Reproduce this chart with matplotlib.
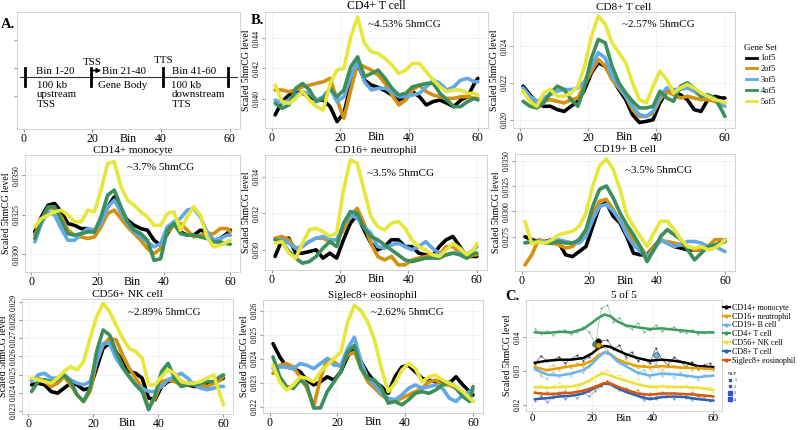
import numpy as np
import matplotlib.pyplot as plt
from matplotlib.lines import Line2D

plt.rcParams['font.family'] = ['Liberation Serif', 'DejaVu Serif']

multiplier = 1e-3  # values below are scaled 5hmCG level x 1000

# bins sampled along the 60-bin gene profile
bins = list(range(1, 60, 2)) + [60]

gene_sets = ['1of5', '2of5', '3of5', '4of5', '5of5']
set_colors = ['#000000', '#D4900F', '#62A8E5', '#3A8F5A', '#E6E63C']

cd4 = {
    '1of5': [38.96, 39.83, 40.26, 40.48, 40.37, 40.15, 39.93, 39.93, 39.50, 38.52,
             39.07, 40.91, 42.33, 41.24, 40.91, 40.76, 40.54, 40.26, 39.93, 40.15,
             40.48, 40.15, 39.61, 39.83, 39.93, 39.72, 39.50, 39.93, 40.15, 41.02, 41.35],
    '2of5': [40.59, 40.59, 40.48, 40.59, 40.80, 40.91, 41.02, 41.13, 41.35, 39.93,
             38.74, 40.59, 42.33, 42.11, 41.89, 41.57, 41.02, 40.26, 39.61, 39.93,
             40.59, 40.91, 40.48, 40.26, 40.15, 40.04, 40.04, 40.15, 40.15, 40.04, 40.04],
    '3of5': [39.93, 39.72, 39.93, 40.26, 40.48, 40.37, 39.93, 40.15, 40.70, 39.83,
             40.15, 41.46, 42.54, 41.13, 40.59, 40.70, 40.70, 40.48, 40.15, 40.15,
             40.26, 40.37, 40.80, 41.24, 41.02, 40.59, 40.80, 41.24, 41.35, 41.13, 41.13],
    '4of5': [39.72, 39.39, 39.61, 40.70, 41.02, 40.59, 39.83, 40.04, 40.70, 40.15,
             40.59, 42.11, 42.76, 41.46, 41.67, 41.89, 41.35, 40.70, 40.26, 40.37,
             40.80, 40.91, 41.02, 41.02, 40.37, 39.93, 39.50, 39.50, 39.83, 40.04, 39.93],
    '5of5': [40.91, 39.83, 39.72, 40.04, 40.48, 39.93, 39.50, 39.28, 41.02, 41.89,
             42.00, 44.07, 45.37, 43.63, 43.09, 42.98, 42.65, 42.22, 41.67, 41.89,
             42.33, 42.33, 41.78, 41.24, 40.80, 40.48, 40.59, 40.59, 40.37, 40.37, 40.26],
}

cd8 = {
    '1of5': [21.82, 21.36, 20.91, 20.73, 20.73, 20.55, 20.45, 20.73, 21.00, 21.64,
             22.55, 23.09, 22.91, 22.27, 21.64, 21.09, 20.27, 19.85, 19.91, 20.00,
             20.91, 21.55, 21.45, 21.36, 21.09, 20.55, 20.45, 21.09, 21.27, 21.18, 21.18],
    '2of5': [21.55, 21.18, 21.00, 21.00, 21.09, 21.00, 20.91, 21.09, 21.18, 21.91,
             22.64, 23.27, 22.91, 22.18, 21.73, 21.27, 20.55, 20.18, 20.18, 20.36,
             21.09, 21.55, 21.36, 21.18, 21.27, 21.18, 21.09, 21.09, 21.00, 20.91, 20.91],
    '3of5': [21.73, 21.27, 21.00, 21.18, 21.36, 21.55, 21.64, 21.64, 21.73, 22.09,
             22.91, 23.64, 23.36, 22.36, 21.82, 21.27, 20.73, 20.27, 20.18, 20.45,
             21.27, 21.73, 21.64, 21.64, 21.73, 21.55, 21.27, 21.27, 21.09, 20.82, 20.73],
    '4of5': [21.00, 20.73, 20.64, 20.91, 21.45, 21.82, 21.64, 21.09, 20.73, 21.82,
             23.36, 24.36, 24.18, 22.91, 22.00, 21.45, 21.00, 20.64, 20.64, 20.73,
             21.55, 21.18, 21.00, 21.82, 22.00, 21.73, 21.27, 21.36, 21.18, 20.55, 20.18],
    '5of5': [21.55, 21.00, 20.73, 21.45, 21.64, 21.27, 21.27, 21.45, 21.82, 22.91,
             24.55, 25.64, 25.18, 24.18, 23.64, 23.09, 22.00, 21.09, 20.91, 21.82,
             22.64, 22.18, 21.45, 21.73, 21.91, 21.73, 21.45, 21.27, 21.09, 21.00, 20.91],
}

cd14 = {
    '1of5': [31.42, 32.37, 33.11, 33.22, 32.69, 31.95, 31.84, 31.63, 31.63, 31.42,
             31.95, 33.01, 33.64, 32.69, 32.16, 31.84, 31.63, 31.53, 30.89, 30.57,
             31.31, 31.95, 31.42, 31.21, 31.21, 31.53, 31.42, 30.89, 31.00, 31.31, 31.53],
    '2of5': [31.21, 32.16, 32.90, 32.90, 32.37, 31.53, 31.21, 31.10, 31.00, 31.10,
             31.74, 32.58, 32.80, 32.27, 31.74, 31.31, 30.89, 30.36, 30.04, 30.36,
             31.42, 31.84, 31.95, 31.53, 31.10, 31.21, 31.31, 31.31, 31.63, 31.63, 31.42],
    '3of5': [30.78, 31.95, 32.69, 32.48, 31.63, 30.89, 30.89, 31.31, 31.63, 31.53,
             31.95, 33.01, 33.43, 32.69, 31.95, 31.42, 31.10, 30.78, 30.47, 30.68,
             31.74, 32.06, 32.27, 32.80, 32.90, 32.37, 31.42, 30.89, 31.00, 31.21, 31.21],
    '4of5': [31.00, 32.16, 33.01, 33.01, 32.16, 31.31, 31.21, 31.31, 31.42, 31.42,
             32.37, 33.75, 34.07, 33.01, 32.06, 31.53, 31.31, 30.89, 29.62, 29.72,
             31.53, 31.95, 31.31, 31.21, 31.21, 31.10, 31.00, 30.78, 30.78, 30.68, 30.64],
    '5of5': [31.74, 32.27, 32.48, 32.69, 32.80, 32.48, 32.06, 32.06, 32.80, 32.69,
             34.07, 35.76, 35.87, 34.28, 33.43, 33.11, 32.69, 32.37, 31.84, 31.84,
             32.58, 32.69, 31.53, 32.37, 33.01, 32.48, 31.10, 30.47, 30.57, 30.78, 30.89],
}

cd16 = {
    '1of5': [29.64, 30.55, 30.64, 29.82, 29.82, 29.91, 30.00, 29.55, 29.82, 29.55,
             30.55, 31.45, 31.91, 31.09, 30.36, 30.00, 30.18, 30.55, 30.55, 30.18,
             30.18, 29.82, 29.73, 29.64, 30.18, 30.55, 30.73, 30.18, 29.64, 29.64, 29.64],
    '2of5': [30.64, 30.73, 30.55, 30.09, 30.18, 30.45, 30.64, 30.64, 30.45, 30.55,
             31.09, 31.82, 32.27, 31.45, 30.36, 29.64, 29.45, 29.64, 29.18, 29.18,
             29.45, 29.55, 29.64, 29.73, 29.73, 30.18, 30.18, 29.82, 29.55, 29.73, 29.73],
    '3of5': [30.55, 30.55, 30.36, 30.09, 30.18, 30.45, 30.64, 30.73, 30.55, 30.55,
             31.36, 31.91, 31.73, 31.27, 30.91, 30.18, 30.09, 30.27, 30.36, 30.18,
             30.00, 30.18, 30.45, 30.09, 29.82, 29.73, 29.82, 29.82, 29.73, 30.00, 30.18],
    '4of5': [30.55, 30.45, 29.91, 29.55, 29.27, 29.36, 29.64, 30.09, 30.45, 30.18,
             31.45, 32.09, 32.00, 31.18, 30.73, 30.55, 30.27, 30.00, 29.73, 29.45,
             29.36, 29.45, 29.55, 29.55, 29.55, 29.73, 29.82, 29.73, 29.55, 29.82, 29.82],
    '5of5': [30.36, 30.45, 29.82, 29.55, 30.36, 31.09, 31.18, 31.00, 30.73, 30.91,
             33.27, 34.91, 34.73, 33.27, 31.82, 31.27, 31.09, 31.45, 31.55, 31.18,
             30.55, 30.18, 30.00, 29.73, 29.64, 30.00, 30.36, 30.09, 29.73, 30.00, 30.36],
}

cd19 = {
    '1of5': [27.50, 27.20, 27.03, 27.03, 27.20, 26.87, 25.70, 25.53, 26.03, 26.53,
             28.53, 30.53, 30.87, 29.53, 28.87, 27.53, 25.87, 25.70, 25.70, 26.53,
             27.20, 26.87, 26.53, 26.37, 26.20, 26.20, 26.20, 26.37, 26.53, 27.03, 27.20],
    '2of5': [24.70, 25.70, 27.20, 27.03, 26.87, 26.70, 26.37, 26.53, 27.20, 28.20,
             29.70, 31.03, 31.20, 30.20, 29.03, 28.20, 27.20, 26.53, 25.53, 26.53,
             27.03, 27.03, 26.87, 26.70, 26.53, 26.20, 26.20, 26.53, 27.20, 27.20, 27.03],
    '3of5': [26.90, 27.00, 27.03, 27.03, 27.03, 27.20, 27.03, 26.87, 26.87, 27.53,
             29.20, 30.53, 30.70, 30.03, 29.20, 27.70, 26.70, 26.03, 25.53, 26.20,
             27.20, 26.87, 26.53, 26.70, 27.03, 27.03, 26.87, 26.53, 26.53, 26.20, 26.03],
    '4of5': [26.90, 27.00, 27.03, 26.87, 26.87, 27.03, 26.87, 26.87, 27.20, 28.20,
             30.53, 32.20, 32.53, 31.37, 29.87, 28.70, 27.70, 26.53, 25.03, 26.20,
             27.53, 28.20, 27.70, 27.20, 26.20, 25.20, 25.87, 26.53, 26.70, 26.87, 27.03],
    '5of5': [29.00, 26.80, 27.00, 26.87, 27.20, 27.70, 27.87, 28.03, 28.53, 29.87,
             32.53, 34.53, 35.20, 34.20, 32.20, 29.70, 28.53, 27.53, 26.53, 27.87,
             29.03, 29.03, 28.20, 27.20, 26.53, 26.37, 26.53, 26.20, 26.37, 26.87, 27.20],
}

cd56 = {
    '1of5': [24.43, 24.52, 24.43, 24.06, 23.97, 24.25, 24.52, 24.43, 24.16, 24.25,
             25.35, 26.45, 26.72, 26.27, 25.72, 25.17, 25.07, 24.80, 23.70, 23.61,
             24.34, 24.61, 24.71, 24.61, 24.43, 24.34, 24.34, 24.43, 24.52, 24.71, 24.80],
    '2of5': [24.71, 24.80, 24.61, 24.34, 24.52, 24.89, 24.43, 23.88, 23.51, 24.06,
             25.72, 26.63, 27.00, 26.91, 26.08, 25.35, 24.80, 24.25, 23.15, 23.70,
             24.61, 24.71, 24.61, 24.43, 24.52, 24.52, 24.43, 24.34, 24.52, 24.71, 24.89],
    '3of5': [24.61, 24.98, 25.07, 24.80, 24.80, 24.98, 24.71, 24.52, 24.43, 24.61,
             25.72, 26.72, 26.72, 25.90, 25.35, 24.89, 24.43, 24.25, 24.06, 24.06,
             24.34, 24.71, 24.89, 25.07, 24.80, 24.43, 24.25, 24.16, 24.25, 24.34, 24.34],
    '4of5': [24.06, 24.61, 24.71, 24.61, 24.71, 24.98, 24.61, 23.88, 23.51, 24.25,
             26.27, 27.46, 27.18, 26.27, 25.44, 24.89, 24.43, 24.06, 23.06, 23.88,
             25.17, 25.62, 24.80, 24.34, 24.43, 24.43, 24.52, 24.61, 24.61, 24.89, 24.98],
    '5of5': [24.80, 24.71, 24.61, 24.52, 24.80, 25.17, 25.44, 25.26, 25.72, 27.00,
             28.19, 28.93, 28.47, 27.73, 27.00, 26.45, 26.27, 25.90, 24.43, 24.43,
             24.89, 25.26, 25.07, 24.61, 24.52, 24.52, 24.61, 24.80, 24.98, 23.88, 23.33],
}

siglec8 = {
    '1of5': [24.63, 24.08, 23.66, 23.59, 23.46, 23.11, 22.91, 23.04, 23.25, 23.11,
             23.46, 24.08, 24.49, 23.87, 23.39, 23.04, 22.84, 22.56, 23.25, 23.66,
             23.73, 23.46, 23.18, 23.11, 23.04, 23.04, 22.98, 23.25, 22.91, 22.63, 22.49],
    '2of5': [23.39, 23.73, 23.80, 23.66, 23.25, 22.77, 22.01, 23.18, 24.01, 23.87,
             23.66, 24.14, 24.28, 23.59, 23.04, 22.77, 22.49, 22.29, 22.22, 22.36,
             22.49, 22.63, 22.77, 23.04, 23.11, 22.91, 22.91, 22.77, 22.49, 22.29, 22.22],
    '3of5': [23.59, 23.66, 23.66, 23.59, 23.80, 23.73, 23.59, 23.80, 24.01, 23.73,
             23.73, 24.42, 24.90, 23.87, 23.18, 22.91, 22.56, 22.36, 22.29, 22.49,
             22.77, 22.91, 22.77, 22.84, 22.91, 22.77, 22.36, 22.22, 22.49, 22.63, 22.70],
    '4of5': [24.08, 23.25, 22.84, 22.77, 23.11, 22.91, 21.95, 21.95, 22.63, 23.04,
             23.46, 24.28, 24.56, 23.59, 23.18, 23.11, 22.77, 22.15, 22.22, 22.08,
             22.29, 22.56, 22.63, 22.56, 22.70, 22.91, 23.04, 22.77, 22.43, 22.22, 22.84],
    '5of5': [23.73, 23.04, 22.70, 22.91, 23.25, 23.18, 23.04, 23.46, 23.73, 24.01,
             24.28, 25.52, 26.23, 26.00, 25.52, 24.76, 23.59, 22.63, 22.98, 23.53,
             23.80, 23.59, 23.04, 23.25, 23.32, 23.11, 22.98, 22.84, 22.63, 22.36, 22.22],
}

# panel C: "5 of 5" gene set across cell types (raw bins + smoothed fit)
c_cells = ['CD14+ monocyte', 'CD16+ neutrophil', 'CD19+ B cell', 'CD4+ T cell',
           'CD56+ NK cell', 'CD8+ T cell', 'Siglec8+ eosinophil']
c_colors = ['#000000', '#E69F00', '#6CB4EA', '#3E9A5E', '#E8E23A', '#2A62B0', '#D35A12']

raw_cd14 = [32.0, 34.5, 32.8, 33.2, 34.2, 32.2, 33.6, 34.6, 33.0, 34.2,
            36.2, 38.8, 39.2, 36.4, 37.6, 34.2, 35.6, 33.0, 33.6, 32.2,
            36.8, 33.4, 31.8, 34.0, 33.0, 31.2, 32.6, 30.6, 31.8, 32.2, 30.8]
raw_cd16 = [31.6, 29.2, 30.4, 31.8, 30.2, 31.6, 30.8, 32.4, 31.2, 32.8,
            34.0, 37.6, 35.8, 34.4, 32.6, 33.4, 31.6, 30.8, 31.8, 30.6,
            31.6, 30.4, 31.2, 31.6, 30.8, 31.4, 30.4, 31.2, 30.6, 30.8, 30.4]
raw_cd19 = [30.8, 28.4, 27.6, 29.6, 28.2, 29.0, 28.6, 30.0, 29.4, 31.0,
            33.2, 35.0, 36.2, 34.4, 32.4, 32.0, 30.2, 29.0, 30.4, 27.8,
            32.2, 28.4, 29.2, 28.0, 29.6, 28.2, 28.6, 27.4, 28.8, 28.4, 28.8]
raw_cd4 = [42.5, 41.0, 41.8, 40.6, 41.4, 42.2, 40.8, 41.6, 43.0, 41.5,
           38.0, 48.5, 49.5, 44.5, 45.8, 43.2, 42.4, 44.2, 41.6, 42.0,
           43.6, 41.8, 42.4, 43.0, 41.6, 41.2, 42.2, 40.9, 41.3, 41.6, 41.4]
raw_cd56 = [24.6, 25.8, 24.8, 25.4, 26.4, 24.6, 25.6, 24.8, 26.6, 26.8,
            27.0, 29.6, 30.2, 28.4, 28.8, 27.4, 26.6, 27.6, 25.4, 25.8,
            24.6, 25.8, 24.8, 25.6, 25.0, 25.8, 24.6, 25.4, 24.8, 25.2, 23.8]
raw_cd8 = [21.2, 22.4, 20.8, 22.0, 23.0, 21.6, 22.8, 22.0, 23.6, 22.4,
           24.0, 25.4, 27.0, 25.8, 24.4, 24.8, 23.4, 22.6, 21.4, 22.2,
           21.6, 23.2, 22.6, 21.8, 22.4, 22.0, 21.4, 22.6, 21.6, 21.0, 21.4]
raw_sig = [23.8, 22.6, 23.8, 22.8, 23.6, 24.0, 22.8, 23.8, 24.4, 23.6,
           25.0, 25.6, 27.0, 26.2, 25.2, 24.6, 23.6, 24.2, 22.6, 23.4,
           22.8, 23.8, 22.6, 23.4, 23.2, 22.8, 23.6, 22.6, 22.2, 22.8, 22.4]

smooth_bins = [1, 5, 9, 13, 17, 20, 22, 24, 26, 28, 31, 35, 39, 43, 47, 51, 55, 60]
fit_cd14 = [32.4, 33.0, 33.3, 33.3, 33.8, 35.2, 36.7, 37.4, 37.1, 36.2, 35.0, 33.8, 33.0, 33.3, 33.0, 32.4, 31.4, 31.1]
fit_cd16 = [31.1, 30.2, 30.8, 31.4, 31.9, 33.0, 34.6, 35.5, 35.0, 33.6, 32.4, 31.4, 31.1, 31.4, 31.1, 30.9, 30.8, 30.5]
fit_cd19 = [30.5, 28.9, 28.6, 29.2, 30.2, 32.1, 34.0, 35.5, 34.8, 33.0, 31.4, 29.5, 28.6, 29.2, 29.0, 28.6, 28.1, 28.6]
fit_cd4 = [41.4, 41.2, 41.6, 41.4, 42.4, 44.3, 45.7, 46.7, 46.2, 44.8, 43.5, 42.9, 42.4, 42.6, 42.2, 41.9, 41.4, 41.4]
fit_cd56 = [25.2, 25.0, 25.2, 25.4, 26.2, 27.6, 28.8, 29.2, 28.6, 27.9, 27.1, 26.0, 25.2, 25.4, 25.2, 25.2, 25.0, 24.3]
fit_cd8 = [21.6, 21.9, 22.4, 22.6, 23.3, 24.5, 25.4, 26.2, 26.0, 25.0, 23.8, 22.6, 21.6, 22.2, 22.4, 22.2, 21.6, 21.2]
fit_sig = [23.5, 23.1, 23.3, 23.5, 24.1, 25.0, 25.7, 26.4, 26.2, 25.4, 24.5, 23.3, 22.9, 23.3, 23.3, 23.1, 22.9, 22.4]

raw_all = [raw_cd14, raw_cd16, raw_cd19, raw_cd4, raw_cd56, raw_cd8, raw_sig]
fit_all = [fit_cd14, fit_cd16, fit_cd19, fit_cd4, fit_cd56, fit_cd8, fit_sig]

# larger (high NLP) points: cell index, bin, value
big_points = [(0, 22, 38.8), (3, 21, 38.1), (1, 22, 37.6), (2, 41, 34.6)]

W, H = 800, 430
fig = plt.figure(figsize=(8, 4.3), dpi=100)


def px_axes(l, t, r, b):
    return fig.add_axes([l / W, 1 - b / H, (r - l) / W, (b - t) / H])


def style(ax, ylim, yticks, ylabels):
    ax.set_xlim(-1.95, 62.95)
    ax.set_ylim(ylim[0] * multiplier, ylim[1] * multiplier)
    ax.set_xticks([0, 20, 40, 60])
    ax.set_yticks(np.array(yticks) * multiplier)
    ax.set_yticklabels(ylabels, rotation=90, va='center', fontsize=5.5)
    ax.tick_params(axis='x', labelsize=8.5, length=2, pad=1, color='#999999')
    ax.tick_params(axis='y', length=2, pad=1, color='#999999')
    ax.grid(color='#eeeeee', lw=0.5)
    ax.set_axisbelow(True)
    for s in ax.spines.values():
        s.set_color('#cccccc')
        s.set_linewidth(0.6)
    ax.set_xlabel('Bin', fontsize=8.5)
    ax.xaxis.set_label_coords(0.5, -0.03)
    ax.set_ylabel('Scaled 5hmCG level', fontsize=7, labelpad=1)


def profile_panel(rect, title, tsize, note, note_xy, data, ylim, yticks, ylabels):
    ax = px_axes(*rect)
    for gs, col in zip(gene_sets, set_colors):
        ax.plot(bins, np.array(data[gs]) * multiplier, color=col, lw=2.6,
                solid_joinstyle='round', solid_capstyle='round')
    style(ax, ylim, yticks, ylabels)
    ax.set_title(title, fontsize=tsize, pad=1.5)
    ax.text(note_xy[0], note_xy[1], note, transform=ax.transAxes, fontsize=8, va='center')
    return ax


# ---- A. schematic ----
axA = px_axes(17, 12, 240, 129)
axA.set_xlim(-1.95, 62.95)
axA.set_ylim(-1.1, 1.0)
axA.set_xticks([0, 20, 40, 60])
axA.set_yticks([-0.5, 0, 0.5])
axA.set_yticklabels([])
axA.tick_params(axis='x', labelsize=8.5, length=2, pad=1, color='#999999')
axA.tick_params(axis='y', length=2, color='#999999')
for s in axA.spines.values():
    s.set_color('#cccccc')
    s.set_linewidth(0.6)
axA.set_xlabel('Bin', fontsize=8.5)
axA.xaxis.set_label_coords(0.5, -0.03)
yl = -0.17
axA.plot([-1.2, 62.2], [yl, yl], color='#333333', lw=0.8)
for xb in [0.5, 19.5, 40.5, 59.5]:
    axA.plot([xb, xb], [yl - 0.16, yl + 0.16], color='black', lw=2)
axA.plot([19.8, 19.8], [yl, -0.05], color='black', lw=1.2)
axA.annotate('', xy=(22.6, -0.05), xytext=(19.6, -0.05),
             arrowprops=dict(arrowstyle='-|>', lw=1.2, color='black', mutation_scale=6,
                             shrinkA=0, shrinkB=0))
fs = 7.8
axA.text(9.3, yl + 0.02, 'Bin 1-20', fontsize=fs, ha='center', va='bottom')
axA.text(29.3, yl + 0.02, 'Bin 21-40', fontsize=fs, ha='center', va='bottom')
axA.text(49.6, yl + 0.02, 'Bin 41-60', fontsize=fs, ha='center', va='bottom')
axA.text(19.9, 0.02, 'TSS', fontsize=fs, ha='center', va='bottom')
axA.text(40.6, 0.04, 'TTS', fontsize=fs, ha='center', va='bottom')
axA.text(3.8, -0.24, '100 kb\nupstream\nTSS', fontsize=fs, ha='left', va='top', linespacing=1.05)
axA.text(28.8, -0.24, 'Gene Body', fontsize=fs, ha='center', va='top')
axA.text(43.0, -0.24, '100 kb\ndownstream\nTTS', fontsize=fs, ha='left', va='top', linespacing=1.05)

# ---- B. per cell type ----
profile_panel((265, 12, 488, 128), 'CD4+ T cell', 8.5, '~4.53% 5hmCG', (0.46, 0.89), cd4,
              (38.1, 45.7), [40, 42, 44], ['0.040', '0.042', '0.044'])
profile_panel((513, 12, 735, 128), 'CD8+ T cell', 8.0, '~2.57% 5hmCG', (0.49, 0.89), cd8,
              (19.55, 25.85), [20, 22, 24], ['0.020', '0.022', '0.024'])
profile_panel((25, 155, 240, 272), 'CD14+ monocyte', 8.0, '~3.7% 5hmCG', (0.475, 0.89), cd14,
              (28.88, 36.29), [30, 32.5, 35], ['0.0300', '0.0325', '0.0350'])
profile_panel((265, 155, 487, 270), 'CD16+ neutrophil', 8.0, '~3.5% 5hmCG', (0.46, 0.84), cd16,
              (28.9, 35.18), [30, 32, 34], ['0.030', '0.032', '0.034'])
profile_panel((515, 154, 735, 271), 'CD19+ B cell', 8.0, '~3.5% 5hmCG', (0.5, 0.86), cd19,
              (24.1, 35.7), [27.5, 30, 32.5, 35], ['0.0275', '0.0300', '0.0325', '0.0350'])
profile_panel((22, 299, 233, 414), 'CD56+ NK cell', 8.0, '~2.89% 5hmCG', (0.5, 0.88), cd56,
              (22.82, 29.17), [23, 24, 25, 26, 27, 28, 29],
              ['0.023', '0.024', '0.025', '0.026', '0.027', '0.028', '0.029'])
profile_panel((263, 300, 483, 413), 'Siglec8+ eosinophil', 8.0, '~2.62% 5hmCG', (0.49, 0.89), siglec8,
              (21.74, 26.45), [22, 23, 24, 25, 26], ['0.022', '0.023', '0.024', '0.025', '0.026'])

fig.legend([Line2D([], [], color=c, lw=2) for c in set_colors], gene_sets,
           loc='upper left', bbox_to_anchor=(737 / W, 1 - 36 / H), frameon=False,
           title='Gene Set', fontsize=6, title_fontsize=6.5, handlelength=1.4,
           labelspacing=0.35, handletextpad=0.4)

# ---- C. 5 of 5 across cell types ----
axC = px_axes(526, 300, 722, 411)
for raw, fit, col in zip(raw_all, fit_all, c_colors):
    axC.plot(bins, np.array(raw) * multiplier, color=col, lw=0.5, alpha=0.6,
             marker='o', ms=1.6, mew=0)
    axC.plot(smooth_bins, np.array(fit) * multiplier, color=col, lw=1.8,
             solid_joinstyle='round')
for ci, b, v in big_points:
    axC.plot(b, v * multiplier, 'o', color=c_colors[ci], ms=4, mec='black', mew=0.3)
style(axC, (18.1, 51.0), [20, 30, 40], ['0.02', '0.03', '0.04'])
axC.tick_params(axis='x', labelsize=8, pad=0.5)
axC.set_xlabel('Bin', fontsize=8)
axC.xaxis.set_label_coords(0.5, -0.025)
axC.set_title('5 of 5', fontsize=8, pad=1.5)
axC.legend([Line2D([], [], color=c, lw=1.5, marker='o', ms=2) for c in c_colors], c_cells,
           loc='upper left', bbox_to_anchor=(0.995, 0.98), frameon=False, fontsize=5.8,
           handlelength=0.9, labelspacing=0.1, handletextpad=0.3, borderaxespad=0.1,
           borderpad=0.1)
nlp = [Line2D([], [], ls='none', marker='s', color='#3050E0', ms=m) for m in [1.5, 2, 2.5, 3]]
fig.legend(nlp, ['1', '2', '3', '4'], loc='upper left', bbox_to_anchor=(724 / W, 1 - 368 / H),
           frameon=False, title='NLP', fontsize=3, title_fontsize=3.5, labelspacing=0.6,
           handlelength=1, handletextpad=0.5)

# panel letters
fig.text(8 / W, 1 - 25 / H, 'A.', fontsize=10.5, weight='bold', ha='center', va='center')
fig.text(257 / W, 1 - 21 / H, 'B.', fontsize=10.5, weight='bold', ha='center', va='center')
fig.text(512 / W, 1 - 297 / H, 'C.', fontsize=10.5, weight='bold', ha='center', va='center')

fig.savefig('out.png', dpi=100)
